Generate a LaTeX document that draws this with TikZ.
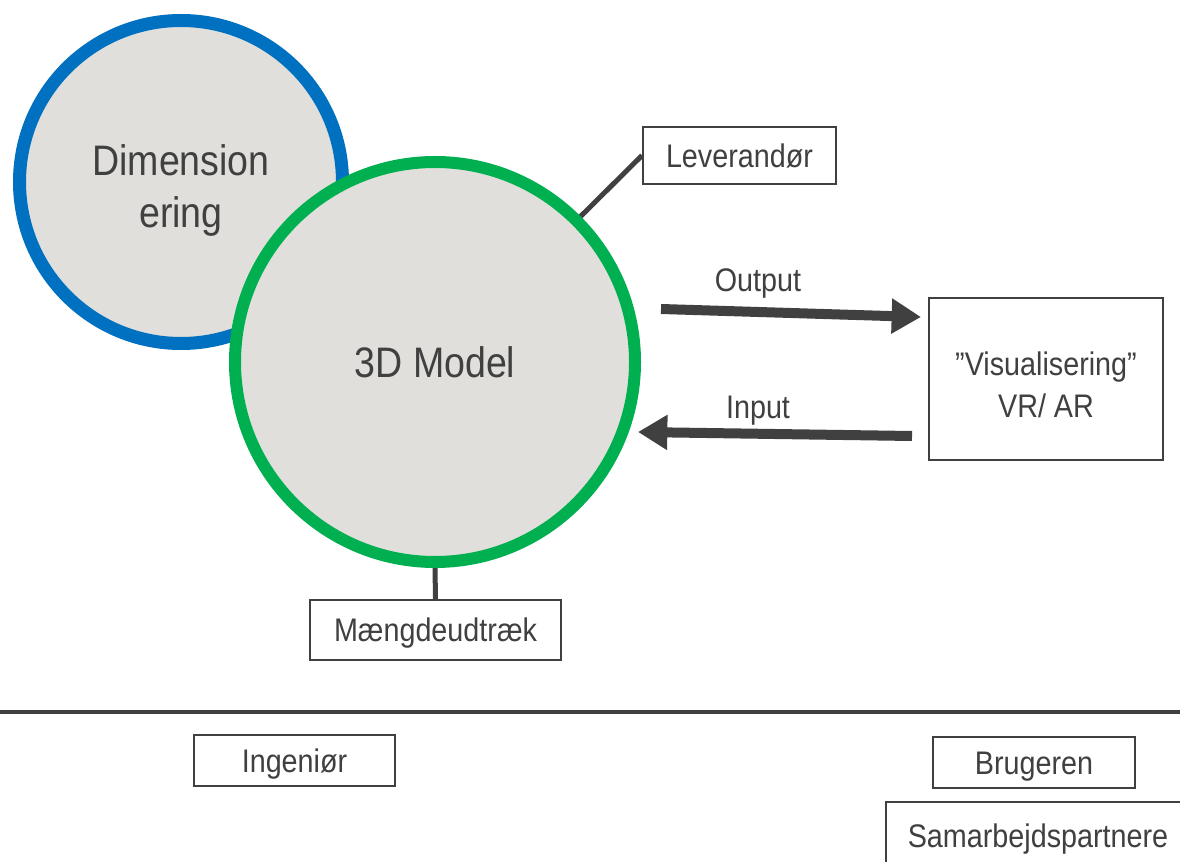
\documentclass[tikz,border=0pt]{standalone}
\usepackage{fontspec}
\setmainfont{Liberation Sans}[FakeStretch=0.88]
\usetikzlibrary{arrows.meta}
\definecolor{txt}{HTML}{404040}
\definecolor{bluering}{HTML}{0070C0}
\definecolor{greenring}{HTML}{00B050}
\definecolor{disc}{HTML}{E0DFDB}
\begin{document}
\begin{tikzpicture}[x=0.75pt,y=-0.75pt,
  ring/.style={circle, fill=disc, inner sep=0pt, text=txt, font=\fontsize{32}{39}\selectfont, align=center},
  bigtext/.style={text=txt, font=\fontsize{32}{39}\selectfont, align=center, inner sep=0pt},
  boxbase/.style={draw=txt, line width=1.5pt, fill=white, text=txt, font=\fontsize{24.5}{31.5}\selectfont, inner sep=0pt, align=center},
  box/.style={boxbase, text height=17.6pt, text depth=0pt},
  lab/.style={text=txt, font=\fontsize{24.5}{31.5}\selectfont, inner sep=0pt, text height=17.6pt, text depth=0pt},
  link/.style={draw=txt, line width=3.75pt},
  bigarrow/.style={draw=txt, line width=7.5pt, -{Triangle[length=22pt,width=25pt]}}]
\useasboundingbox (0,0) rectangle (1180,862);
% circles
\node[ring, draw=bluering, line width=9.75pt, minimum size=242.25pt] (dim) at (181,182) {};
\node[bigtext] (dimtext) at (181,190) {Dimension\\ering};
\node[ring, draw=greenring, line width=9pt, minimum size=300pt, text height=23pt, text depth=0pt] (model) at (435,362) {3D Model};
% boxes
\node[box, minimum width=144.75pt, minimum height=42.75pt] (lev) at (739.5,155.5) {Leverand\o r};
\node[boxbase, minimum width=175.5pt, minimum height=121.5pt] (vis) at (1046,379) {\rule{0pt}{27pt}”Visualisering”\\VR/ AR};
\node[box, minimum width=188.25pt, minimum height=45pt] (maeng) at (435.5,630) {M\ae ngdeudtr\ae k};
\node[box, minimum width=150.75pt, minimum height=38.25pt] (ing) at (294.5,760.5) {Ingeni\o r};
\node[box, minimum width=151.5pt, minimum height=38.25pt] (brug) at (1034,762.5) {Brugeren};
\node[box, minimum width=228pt, minimum height=51pt] (sam) at (1038,836) {Samarbejdspartnere};
% connectors
\draw[link] (model.45) -- (lev.west);
\draw[link] (model.south) -- (maeng.north);
\coordinate (oS) at (661,309);
\coordinate (oE) at (921,317);
\coordinate (iS) at (912,436);
\coordinate (iE) at (638,432);
\draw[bigarrow] (oS) -- (oE);
\draw[bigarrow] (iS) -- (iE);
\node[lab] (outlab) at (758,280) {Output};
\node[lab] (inlab) at (758,407) {Input};
% separator
\coordinate (hl) at (0,712);
\coordinate (hr) at (1180,712);
\draw[draw=txt, line width=3pt] (hl) -- (hr);
\end{tikzpicture}
\end{document}
